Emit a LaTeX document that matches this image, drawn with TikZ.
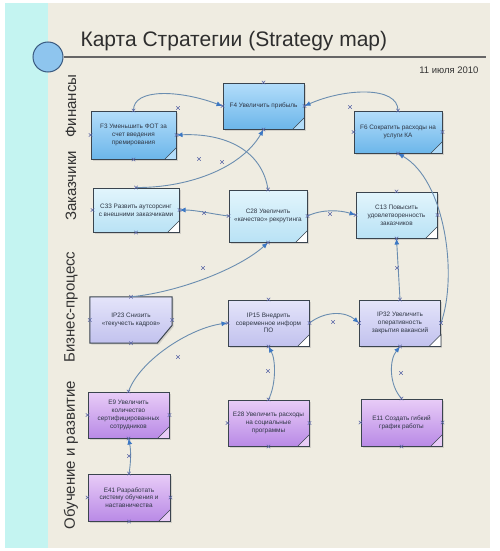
\documentclass[tikz,border=0pt]{standalone}
\usepackage{fontspec}
\setmainfont{Liberation Sans}
\usetikzlibrary{arrows.meta,shadows,shapes.misc}
\definecolor{cyanbg}{HTML}{C4F4F1}
\definecolor{beige}{HTML}{EFECE1}
\definecolor{bd}{HTML}{3A444E}
\definecolor{txt}{HTML}{2E3644}
\definecolor{finT}{HTML}{B3DDFA}
\definecolor{finB}{HTML}{6CB6EA}
\definecolor{cusT}{HTML}{E2F5FC}
\definecolor{cusB}{HTML}{B9E2F5}
\definecolor{proT}{HTML}{E4E4FA}
\definecolor{proB}{HTML}{C2C2EE}
\definecolor{lrnT}{HTML}{E8CCF7}
\definecolor{lrnB}{HTML}{B98AE6}
\definecolor{conc}{HTML}{6A8DB0}
\definecolor{tipc}{HTML}{3C78C4}
\definecolor{xcol}{HTML}{5A66A6}
\definecolor{circf}{HTML}{8EC5EE}
\definecolor{circd}{HTML}{3A5A80}
\newcommand\foldc[2]{\filldraw[fill=#2, draw=bd, line width=0.6pt] ([xshift=-12pt]#1.south east) -- ([yshift=12pt]#1.south east) -- (#1.south east) -- cycle;}
\begin{document}
\begin{tikzpicture}[x=1pt,y=-1pt,
  box/.style={draw=bd, line width=1pt, minimum width=81pt, minimum height=46pt,
    inner sep=2pt, align=center, font=\fontsize{6.4}{7.8}\selectfont, text=txt,
    drop shadow={opacity=0.25, shadow xshift=1.5pt, shadow yshift=-1.5pt}},
  fin/.style={box, top color=finT, bottom color=finB},
  cus/.style={box, top color=cusT, bottom color=cusB},
  pro/.style={box, top color=proT, bottom color=proB},
  lrn/.style={box, top color=lrnT, bottom color=lrnB},
  conn/.style={draw=conc, line width=0.9pt, -{Latex[length=6pt,width=5pt,fill=tipc,color=tipc]}},
  xmk/.style={cross out, draw=xcol, minimum size=3pt, inner sep=0pt, line width=0.5pt},
  lane/.style={rotate=90, font=\fontsize{15}{18}\selectfont, text=black!80}
]
\useasboundingbox (0,0) rectangle (500,551);
\fill[white] (0,0) rectangle (500,551);
\fill[cyanbg] (5,3) rectangle (48,548);
\fill[beige] (48,3) rectangle (490,548);

% title
\node[anchor=base west, font=\fontsize{21}{25}\selectfont, text=black!82] (title) at (77,47) {Карта Стратегии (Strategy map)};
\node[circle, draw=circd, fill=circf, minimum size=30pt, line width=1pt] (circ) at (48,57) {};
\coordinate (lineend) at (486,57);
\draw[black!60, line width=1.4pt] (circ.east) -- (lineend);
\node[anchor=base east, font=\fontsize{9.5}{11}\selectfont, text=black!80] (date) at (482,74) {11 июля 2010};

% lanes
\node[lane] (L1) at (71,106) {Финансы};
\node[lane] (L2) at (71,186) {Заказчики};
\node[lane] (L3) at (71,307) {Бизнес-процесс};
\node[lane] (L4) at (71,455) {Обучение и развитие};

% boxes
\node[fin, minimum width=85pt, minimum height=48pt] (F3) at (133.5,135) {F3 Уменьшить ФОТ за\\счет введения\\премирования};
\node[fin] (F4) at (263.5,106) {F4 Увеличить прибыль};
\node[fin, minimum width=88pt, minimum height=42pt] (F6) at (398,132) {F6 Сократить расходы на\\услуги КА};
\node[cus, minimum width=86pt, minimum height=44pt] (C33) at (136,210) {C33 Развить аутсорсинг\\с внешними заказчиками};
\node[cus, minimum width=78pt, minimum height=52pt] (C28) at (268,216) {C28 Увеличить\\«качество» рекрутинга};
\node[cus] (C13) at (396.5,215) {C13 Повысить\\удовлетворенность\\заказчиков};
\node[minimum width=82pt, minimum height=46pt, inner sep=2pt, align=center, font=\fontsize{6.4}{7.8}\selectfont, text=txt] (IP23) at (131,320) {};
\path[draw=bd, line width=1pt, top color=proT, bottom color=proB,
  drop shadow={opacity=0.25, shadow xshift=1.5pt, shadow yshift=-1.5pt}]
  (IP23.north west) -- (IP23.north east) -- ([yshift=18pt]IP23.south east) -- ([xshift=-15pt]IP23.south east) -- (IP23.south west) -- cycle;
\node[align=center, font=\fontsize{6.4}{7.8}\selectfont, text=txt] (IP23t) at (IP23) {IP23 Снизить\\«текучесть кадров»};
\node[pro] (IP15) at (268.5,323) {IP15 Внедрить\\современное информ\\ПО};
\node[pro] (IP32) at (400,323) {IP32 Увеличить\\оперативность\\закрытия вакансий};
\node[lrn] (E9) at (128.5,415) {E9 Увеличить\\количество\\сертифицированных\\сотрудников};
\node[lrn] (E28) at (268.5,423) {E28 Увеличить расходы\\на социальные\\программы};
\node[lrn, minimum height=47pt] (E11) at (401.5,422.5) {E11 Создать гибкий\\график работы};
\node[lrn, minimum width=82pt, minimum height=47pt] (E41) at (129,497.5) {E41 Разработать\\систему обучения и\\наставничества};

\foldc{F3}{finT}
\foldc{F4}{finT}
\foldc{F6}{finT}
\foldc{C33}{white}
\foldc{C28}{white}
\foldc{C13}{white}
\foldc{IP15}{white}
\foldc{IP32}{white}
\foldc{E9}{lrnT}
\foldc{E28}{lrnT}
\foldc{E11}{lrnT}
\foldc{E41}{lrnT}

% connectors
\draw[conn] (F3.north) .. controls (133,88) and (180,90) .. (F4.west);
\draw[conn] (F6.north) .. controls (398,86) and (345,88) .. (F4.east);
\draw[conn] (IP32.east) .. controls (458,275) and (445,180) .. (F6.south);
\draw[conn] (C28.north) .. controls (262,150) and (225,133) .. (F3.east);
\draw[conn] (C33.north) .. controls (185,188) and (240,170) .. (F4.south);
\draw[conn] (C28.west) .. controls (212,214) and (196,210) .. (C33.east);
\draw[conn] (C28.east) .. controls (322,209) and (340,210) .. (C13.west);
\draw[conn] (IP32.north) -- (C13.south);
\draw[conn] (IP23.north) .. controls (180,292) and (240,268) .. (C28.south);
\draw[conn] (E9.north) .. controls (140,360) and (190,328) .. (IP15.west);
\draw[conn] (IP15.east) .. controls (325,311) and (345,311) .. (IP32.west);
\draw[conn] (E28.north) .. controls (276,385) and (276,360) .. (IP15.south);
\draw[conn] (E11.north) .. controls (389,385) and (389,360) .. (IP32.south);
\draw[conn] (E41.north) .. controls (131,462) and (131,450) .. (E9.south);

% connection point marks
\foreach \n in {F3,F4,F6,C33,C28,C13,IP23,IP15,IP32,E9,E28,E11,E41}
  \foreach \a in {north,south,east,west}
    \node[xmk] at (\n.\a) {};
\foreach \p in {(178,108),(199,159),(222,162),(350,107),(203,268),(204,213),(330,214),(397,268),(178,357),(268,371),(333,322),(401,373),(129,456)}
  \node[xmk] at \p {};
\end{tikzpicture}
\end{document}
